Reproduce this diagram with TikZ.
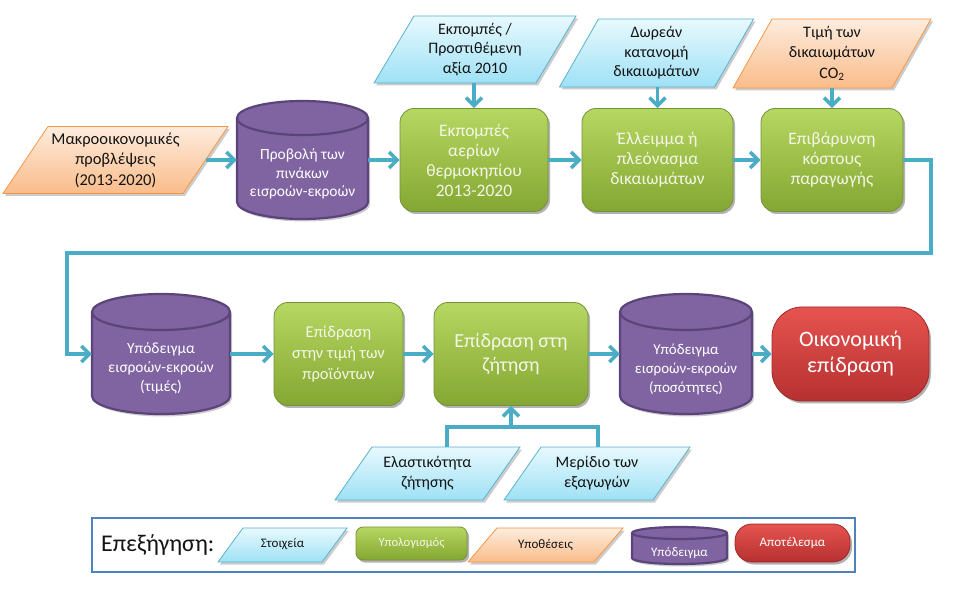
\documentclass[tikz,border=0pt]{standalone}
\usepackage{fontspec}
\setmainfont{Carlito}
\usetikzlibrary{arrows.meta,shadows,calc}
\definecolor{connc}{RGB}{75,172,198}
\definecolor{cyantop}{RGB}{232,249,254}
\definecolor{cyanbot}{RGB}{158,225,245}
\definecolor{cyanbd}{RGB}{88,178,208}
\definecolor{orgtop}{RGB}{253,236,222}
\definecolor{orgbot}{RGB}{250,188,138}
\definecolor{orgbd}{RGB}{247,150,70}
\definecolor{gtop}{RGB}{182,216,98}
\definecolor{gbot}{RGB}{132,166,50}
\definecolor{gbd}{RGB}{116,146,58}
\definecolor{gtext}{RGB}{243,246,230}
\definecolor{purp}{RGB}{128,100,162}
\definecolor{purpbd}{RGB}{90,68,122}
\definecolor{rtop}{RGB}{230,84,80}
\definecolor{rbot}{RGB}{182,48,48}
\definecolor{rbd}{RGB}{158,42,42}
\definecolor{legc}{RGB}{79,129,189}
\definecolor{darktext}{RGB}{20,20,20}
\newcommand\myfs[2]{\fontsize{#1}{#2}\selectfont}
% parallelogram: name, cx, cy(px, down), w, h, slant, style, font, text
\newcommand\paranode[9]{%
  \fill[black,opacity=.2] (#2-#4/2+2, -#3-#5/2-2.5) -- (#2+#4/2-#6+2, -#3-#5/2-2.5) -- (#2+#4/2+2, -#3+#5/2-2.5) -- (#2-#4/2+#6+2, -#3+#5/2-2.5) -- cycle;
  \path[#7] (#2-#4/2, -#3-#5/2) -- (#2+#4/2-#6, -#3-#5/2) -- (#2+#4/2, -#3+#5/2) -- (#2-#4/2+#6, -#3+#5/2) -- cycle;
  \node[txt, minimum width=#4pt, minimum height=#5pt, font=#8] (#1) at (#2,-#3) {#9};
}
% cylinder: name, cx, cy, w, h, ry, text shift, font, text
\newcommand\cylnode[9]{%
  \fill[black,opacity=.2,xshift=2pt,yshift=-2.5pt] (#2-#4/2, -#3+#5/2-#6) -- (#2-#4/2, -#3-#5/2+#6) arc[start angle=180, end angle=360, x radius=#4/2, y radius=#6] -- (#2+#4/2, -#3+#5/2-#6) arc[start angle=0, end angle=180, x radius=#4/2, y radius=#6] -- cycle;
  \path[cylshape] (#2-#4/2, -#3+#5/2-#6) -- (#2-#4/2, -#3-#5/2+#6) arc[start angle=180, end angle=360, x radius=#4/2, y radius=#6] -- (#2+#4/2, -#3+#5/2-#6) arc[start angle=0, end angle=180, x radius=#4/2, y radius=#6] -- cycle;
  \draw[cylline] (#2-#4/2, -#3+#5/2-#6) arc[start angle=180, end angle=360, x radius=#4/2, y radius=#6];
  \node[txt, minimum width=#4pt, minimum height=#5pt] (#1) at (#2,-#3) {};
  \node[txt, text=white, font=#8] (#1-t) at (#2,-#3-#7) {#9};
}
\tikzset{
  txt/.style={align=center, inner sep=0pt, text=darktext},
  conn/.style={draw=connc, line width=3.5pt, -{Straight Barb[length=8pt,width=16pt]}},
  plainline/.style={draw=connc, line width=3.5pt},
  cyanp/.style={top color=cyantop, bottom color=cyanbot, draw=cyanbd, line width=0.8pt},
  orgp/.style={top color=orgtop, bottom color=orgbot, draw=orgbd, line width=0.8pt},
  cylshape/.style={fill=purp, draw=purpbd, line width=2.2pt},
  cylline/.style={draw=purpbd, line width=2.2pt},
  gbox/.style={rounded corners=14pt, draw=gbd, line width=0.8pt, top color=gtop, bottom color=gbot,
    text=gtext, align=center, inner sep=2pt,
    drop shadow={shadow xshift=2pt, shadow yshift=-2.5pt, opacity=.3, fill=black}},
  rbox/.style={rounded corners=30pt, draw=rbd, line width=0.8pt, top color=rtop, bottom color=rbot,
    text=white, align=center, inner sep=2pt,
    drop shadow={shadow xshift=2pt, shadow yshift=-2.5pt, opacity=.3, fill=black}},
}
\begin{document}
\begin{tikzpicture}[x=1pt,y=1pt]
\fill[white] (0,0) rectangle (978,-612);
\useasboundingbox (0,0) rectangle (978,-612);

% ---------- top row ----------
\paranode{p0}{115.5}{160}{225}{67}{45}{orgp}{\myfs{16.5}{20.5}}{Μακροοικονομικές\\προβλέψεις\\(2013-2020)}
\cylnode{c1}{302.5}{160}{131}{118}{17}{14}{\myfs{15.5}{18.5}}{Προβολή των\\πινάκων\\εισροών-εκροών}
\node[gbox, minimum width=148pt, minimum height=103pt, font=\myfs{17.5}{20}] (b1) at (474,-160) {Εκπομπές\\αερίων\\θερμοκηπίου\\2013-2020};
\node[gbox, minimum width=151pt, minimum height=103pt, font=\myfs{17.5}{20}] (b2) at (657.5,-160) {Έλλειμμα ή\\πλεόνασμα\\δικαιωμάτων};
\node[gbox, minimum width=142pt, minimum height=103pt, font=\myfs{17.5}{20}] (b3) at (832,-160) {Επιβάρυνση\\κόστους\\παραγωγής};

\paranode{p1}{475}{49.5}{202}{67}{40}{cyanp}{\myfs{16}{19.5}}{Εκπομπές /\\Προστιθέμενη\\αξία 2010}
\paranode{p2}{656.5}{53}{194}{68}{39}{cyanp}{\myfs{16}{19.5}}{Δωρεάν\\κατανομή\\δικαιωμάτων}
\paranode{p3}{832}{53.5}{198}{69}{39}{orgp}{\myfs{16}{20.5}}{Τιμή των\\δικαιωμάτων\\CO\textsubscript{2}}

\coordinate (p0e) at ($(p0.east)+(-22.5,0)$);
\draw[conn] (p0e) -- (c1.west);
\draw[conn] (c1.east) -- (b1.west);
\draw[conn] (b1.east) -- (b2.west);
\draw[conn] (b2.east) -- (b3.west);
\draw[conn] (b1.north |- p1.south) -- (b1.north);
\draw[conn] (b2.north |- p2.south) -- (b2.north);
\draw[conn] (b3.north |- p3.south) -- (b3.north);

% ---------- bottom row ----------
\cylnode{c2}{161}{354}{138}{120}{18}{14}{\myfs{15.5}{19}}{Υπόδειγμα\\εισροών-εκροών\\(τιμές)}
\node[gbox, minimum width=129pt, minimum height=103pt, font=\myfs{16.5}{21}] (b4) at (338.5,-354) {Επίδραση\\στην τιμή των\\προϊόντων};
\node[gbox, minimum width=154pt, minimum height=103pt, font=\myfs{20}{24}] (b5) at (511,-354) {Επίδραση στη\\ζήτηση};
\cylnode{c3}{686}{354}{132}{120}{18}{15}{\myfs{15}{19}}{Υπόδειγμα\\εισροών-εκροών\\(ποσότητες)}
\node[rbox, minimum width=157pt, minimum height=94pt, font=\myfs{22}{26}] (r) at (850.5,-354) {Οικονομική\\επίδραση};

\coordinate (k1) at (931,-253);
\coordinate (k2) at (67,-253);
\draw[conn] (b3.east) -| (k1) -- (k2) |- (c2.west);
\draw[conn] (c2.east) -- (b4.west);
\draw[conn] (b4.east) -- (b5.west);
\draw[conn] (b5.east) -- (c3.west);
\draw[conn] (c3.east) -- (r.west);

\paranode{e1}{427.5}{473.5}{185}{53}{37}{cyanp}{\myfs{16}{20}}{Ελαστικότητα\\ζήτησης}
\paranode{e2}{597}{473.5}{186}{53}{37}{cyanp}{\myfs{16}{20}}{Μερίδιο των\\εξαγωγών}
\coordinate (j1) at (447,-427);
\coordinate (j2) at (598,-427);
\coordinate (ja) at (447,-447);
\coordinate (jb) at (598,-447);
\draw[plainline] (ja) -- (j1) -- (j2) -- (jb);
\draw[conn] (b5.south |- j1) -- (b5.south);

% ---------- legend ----------
\node[draw=legc, line width=2.5pt, minimum width=763pt, minimum height=54pt, inner sep=0pt] (leg) at (473.5,-545) {};
\node[txt, font=\myfs{24}{26}, anchor=west] (legt) at (101,-545) {Επεξήγηση:};
\paranode{l1}{282.5}{545}{129}{34}{25}{cyanp}{\myfs{13}{15}}{\raisebox{4pt}{Στοιχεία}}
\node[gbox, rounded corners=7pt, minimum width=111pt, minimum height=33pt, font=\myfs{12.5}{15}] (l2) at (411.5,-543.5) {Υπολογισμός};
\paranode{l3}{545.5}{545}{155}{34}{29}{orgp}{\myfs{13}{15}}{Υποθέσεις}
\cylnode{l4}{679.5}{545.5}{95}{37}{6}{7}{\myfs{13}{15}}{Υπόδειγμα}
\node[rbox, rounded corners=17pt, minimum width=115pt, minimum height=38pt, font=\myfs{13}{15}] (l5) at (792.5,-543) {Αποτέλεσμα};
\end{tikzpicture}
\end{document}
